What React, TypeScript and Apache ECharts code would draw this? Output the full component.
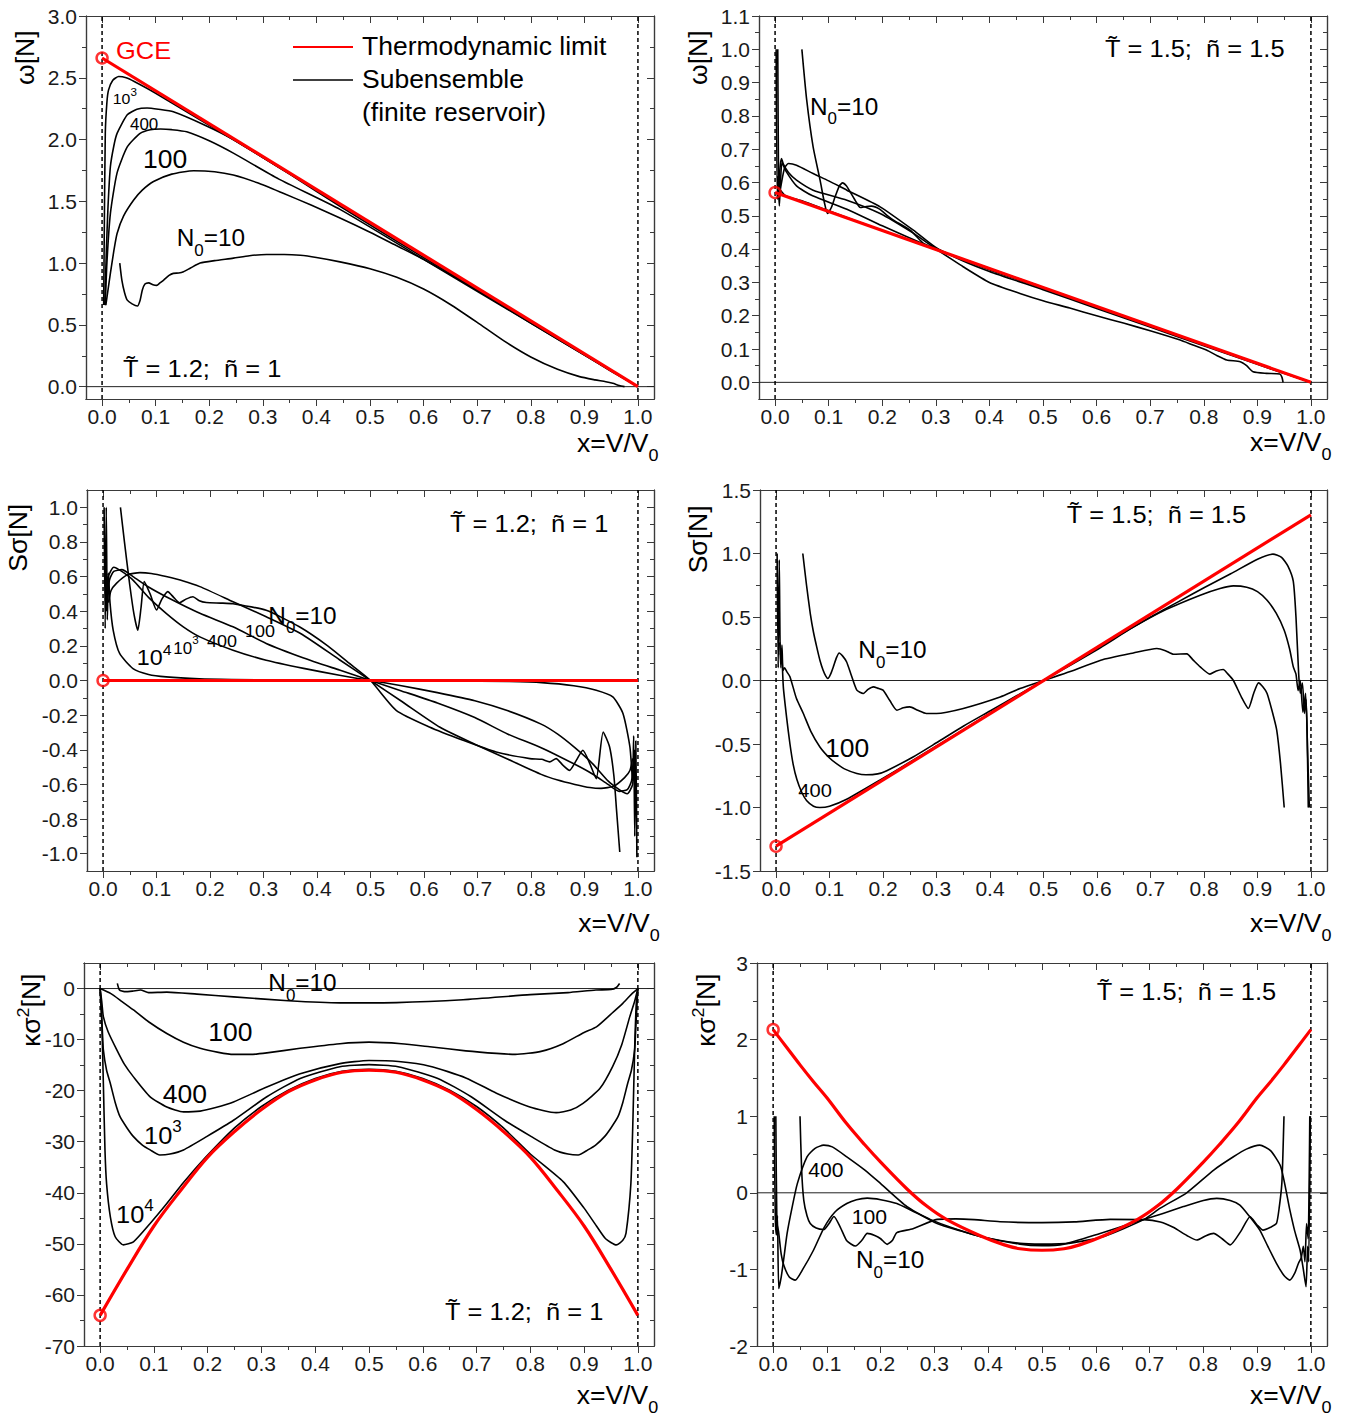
import React, { useEffect, useRef } from 'react';
import * as echarts from 'echarts';

const FONT = '"Liberation Sans", Arial, Helvetica, sans-serif';
const AXC = '#3a3a3a';
const LBC = '#1a1a1a';
const RED = '#ff0000';

// ---------- shared x ticks ----------
const X_MAJOR = [0, 0.1, 0.2, 0.3, 0.4, 0.5, 0.6, 0.7, 0.8, 0.9, 1.0];
const X_MINOR = [0.05, 0.15, 0.25, 0.35, 0.45, 0.55, 0.65, 0.75, 0.85, 0.95];

// ---------- Panel 1: omega[N], T=1.2, n=1 ----------
const P1_Y_MAJOR = [0, 0.5, 1.0, 1.5, 2.0, 2.5, 3.0];
const P1_Y_MINOR = [0.25, 0.75, 1.25, 1.75, 2.25, 2.75];
const p1Red = [[0, 2.66], [1, 0]];
const p1N10000 = [[0.003, 0.66], [0.004, 1.2], [0.006, 2.05], [0.009, 2.3], [0.012, 2.4], [0.02, 2.48], [0.031, 2.51], [0.045, 2.5], [0.06, 2.47], [0.1, 2.375], [0.2, 2.115], [0.3, 1.855], [0.45, 1.46], [0.6, 1.062], [0.8, 0.531], [0.9, 0.265], [1.0, 0]];
const p1N1000 = [[0.005, 0.66], [0.008, 1.1], [0.011, 1.45], [0.0155, 1.78], [0.022, 1.95], [0.028, 2.05], [0.047, 2.2], [0.065, 2.245], [0.084, 2.255], [0.105, 2.245], [0.133, 2.225], [0.19, 2.12], [0.245, 2.0], [0.35, 1.72], [0.444, 1.46], [0.6, 1.045], [0.8, 0.525], [0.9, 0.262], [1, 0]];
const p1N400 = [[0.006, 0.66], [0.009, 1.0], [0.0155, 1.40], [0.028, 1.73], [0.047, 1.94], [0.071, 2.05], [0.09, 2.08], [0.109, 2.085], [0.13, 2.08], [0.158, 2.063], [0.2, 1.99], [0.245, 1.89], [0.33, 1.68], [0.444, 1.435], [0.6, 1.03], [0.8, 0.515], [0.9, 0.257], [1, 0]];
const p1N100 = [[0.007, 0.66], [0.01, 0.75], [0.0155, 0.917], [0.022, 1.1], [0.028, 1.24], [0.04, 1.38], [0.059, 1.51], [0.075, 1.59], [0.096, 1.66], [0.13, 1.72], [0.171, 1.748], [0.21, 1.74], [0.245, 1.713], [0.29, 1.65], [0.338, 1.565], [0.39, 1.47], [0.444, 1.365], [0.5, 1.25], [0.55, 1.14], [0.6, 1.03], [0.7, 0.78], [0.8, 0.515], [0.9, 0.255], [0.95, 0.125], [1, 0]];
const p1N10 = [[0.033, 1.0], [0.037, 0.86], [0.042, 0.76], [0.047, 0.7], [0.056, 0.67], [0.066, 0.653], [0.071, 0.7], [0.075, 0.78], [0.08, 0.83], [0.087, 0.84], [0.095, 0.825], [0.102, 0.82], [0.108, 0.84], [0.115, 0.863], [0.125, 0.9], [0.133, 0.917], [0.143, 0.92], [0.152, 0.93], [0.165, 0.96], [0.183, 1.0], [0.21, 1.02], [0.245, 1.04], [0.275, 1.06], [0.307, 1.07], [0.34, 1.07], [0.37, 1.063], [0.4, 1.045], [0.444, 1.01], [0.5, 0.955], [0.55, 0.885], [0.6, 0.79], [0.65, 0.665], [0.7, 0.52], [0.75, 0.37], [0.8, 0.24], [0.85, 0.14], [0.891, 0.081], [0.92, 0.055], [0.94, 0.04], [0.953, 0.027], [0.965, 0.01], [0.975, 0]];

// ---------- Panel 2: omega[N], T=1.5, n=1.5 ----------
const P2_Y_MAJOR = [0, 0.1, 0.2, 0.3, 0.4, 0.5, 0.6, 0.7, 0.8, 0.9, 1.0, 1.1];
const P2_Y_MINOR = [0.05, 0.15, 0.25, 0.35, 0.45, 0.55, 0.65, 0.75, 0.85, 0.95, 1.05];
const p2Red = [[0, 0.57], [1, 0]];
const p2N10000 = [[0.002, 1.0], [0.004, 0.55], [0.006, 0.62], [0.009, 0.58], [0.02, 0.56], [0.05, 0.545], [0.1, 0.515], [0.2, 0.456], [0.3, 0.399], [0.5, 0.285], [0.7, 0.171], [0.9, 0.057], [1, 0]];
const p2N1000 = [[0.005, 1.0], [0.0065, 0.6], [0.008, 0.53], [0.01, 0.6], [0.013, 0.66], [0.02, 0.635], [0.04, 0.59], [0.07, 0.56], [0.134, 0.52], [0.2, 0.47], [0.3, 0.4], [0.5, 0.285], [0.7, 0.171], [0.9, 0.057], [1, 0]];
const p2N400 = [[0.006, 0.55], [0.009, 0.64], [0.012, 0.672], [0.0155, 0.655], [0.025, 0.63], [0.04, 0.607], [0.071, 0.577], [0.134, 0.547], [0.196, 0.507], [0.258, 0.448], [0.3, 0.402], [0.4, 0.338], [0.5, 0.282], [0.7, 0.169], [0.9, 0.056], [1, 0]];
const p2N100 = [[0.008, 0.56], [0.012, 0.6], [0.018, 0.645], [0.025, 0.657], [0.04, 0.652], [0.071, 0.627], [0.1, 0.605], [0.134, 0.577], [0.196, 0.527], [0.258, 0.457], [0.3, 0.405], [0.35, 0.365], [0.4, 0.333], [0.5, 0.278], [0.6, 0.222], [0.7, 0.166], [0.8, 0.11], [0.9, 0.054], [1, 0]];
const p2N10 = [[0.05, 1.0], [0.059, 0.848], [0.071, 0.707], [0.084, 0.607], [0.092, 0.54], [0.098, 0.507], [0.105, 0.525], [0.112, 0.557], [0.12, 0.59], [0.126, 0.599], [0.133, 0.59], [0.14, 0.572], [0.15, 0.545], [0.159, 0.525], [0.17, 0.528], [0.18, 0.529], [0.195, 0.52], [0.21, 0.5], [0.221, 0.487], [0.252, 0.457], [0.277, 0.417], [0.3, 0.4], [0.351, 0.347], [0.4, 0.3], [0.457, 0.267], [0.5, 0.245], [0.55, 0.223], [0.6, 0.2], [0.65, 0.178], [0.7, 0.155], [0.756, 0.127], [0.78, 0.112], [0.805, 0.097], [0.825, 0.08], [0.843, 0.067], [0.868, 0.062], [0.88, 0.05], [0.892, 0.032], [0.917, 0.027], [0.942, 0.025], [0.946, 0.015], [0.948, 0]];

// ---------- Panel 3: S sigma[N], T=1.2, n=1 ----------
const P3_Y_MAJOR = [-1.0, -0.8, -0.6, -0.4, -0.2, 0, 0.2, 0.4, 0.6, 0.8, 1.0];
const P3_Y_MINOR = [-0.9, -0.7, -0.5, -0.3, -0.1, 0.1, 0.3, 0.5, 0.7, 0.9];
const p3Red = [[0, 0], [1, 0]];
const p3N10000 = [[0.002, 1.0], [0.004, 0.3], [0.006, 1.0], [0.008, 0.35], [0.01, 0.62], [0.013, 0.45], [0.019, 0.29], [0.031, 0.156], [0.056, 0.069], [0.085, 0.035], [0.118, 0.021], [0.18, 0.01], [0.24, 0.006], [0.35, 0.002], [0.5, 0], [0.65, -0.002], [0.76, -0.006], [0.82, -0.012], [0.88, -0.03], [0.922, -0.056], [0.953, -0.095], [0.972, -0.19], [0.985, -0.384], [0.99, -0.58], [0.992, -0.32], [0.994, -0.9], [0.996, -0.35], [0.998, -1.02]];
const p3N1000 = [[0.006, 0.4], [0.01, 0.6], [0.02, 0.654], [0.035, 0.63], [0.056, 0.58], [0.085, 0.48], [0.118, 0.388], [0.15, 0.31], [0.181, 0.252], [0.243, 0.175], [0.305, 0.117], [0.375, 0.07], [0.442, 0.03], [0.5, 0], [0.558, -0.03], [0.625, -0.07], [0.695, -0.117], [0.757, -0.175], [0.819, -0.252], [0.85, -0.31], [0.882, -0.388], [0.915, -0.48], [0.944, -0.58], [0.965, -0.63], [0.98, -0.654], [0.99, -0.6], [0.994, -0.4]];
const p3N400 = [[0.008, 0.45], [0.012, 0.58], [0.02, 0.63], [0.035, 0.64], [0.056, 0.6], [0.085, 0.54], [0.118, 0.484], [0.181, 0.388], [0.243, 0.31], [0.305, 0.214], [0.375, 0.13], [0.442, 0.06], [0.5, 0], [0.558, -0.06], [0.625, -0.13], [0.695, -0.214], [0.757, -0.31], [0.819, -0.388], [0.882, -0.484], [0.915, -0.54], [0.944, -0.6], [0.965, -0.64], [0.98, -0.63], [0.988, -0.58], [0.992, -0.45]];
const p3N100 = [[0.01, 0.45], [0.015, 0.52], [0.025, 0.561], [0.045, 0.61], [0.069, 0.623], [0.09, 0.618], [0.118, 0.6], [0.15, 0.575], [0.181, 0.542], [0.243, 0.455], [0.305, 0.368], [0.37, 0.27], [0.442, 0.12], [0.5, 0], [0.558, -0.12], [0.63, -0.27], [0.695, -0.368], [0.757, -0.455], [0.819, -0.542], [0.85, -0.575], [0.882, -0.6], [0.91, -0.618], [0.931, -0.623], [0.955, -0.61], [0.975, -0.561], [0.985, -0.52], [0.99, -0.45]];
const p3N10 = [[0.0325, 1.0], [0.04, 0.8], [0.05, 0.55], [0.058, 0.38], [0.065, 0.29], [0.071, 0.42], [0.077, 0.571], [0.088, 0.5], [0.1, 0.407], [0.11, 0.47], [0.121, 0.513], [0.132, 0.48], [0.143, 0.449], [0.155, 0.47], [0.168, 0.484], [0.18, 0.46], [0.193, 0.45], [0.22, 0.447], [0.243, 0.443], [0.305, 0.405], [0.367, 0.31], [0.42, 0.2], [0.46, 0.1], [0.5, 0], [0.548, -0.172], [0.61, -0.268], [0.673, -0.345], [0.735, -0.413], [0.798, -0.451], [0.82, -0.455], [0.835, -0.47], [0.847, -0.451], [0.86, -0.49], [0.872, -0.519], [0.885, -0.46], [0.897, -0.403], [0.91, -0.48], [0.922, -0.567], [0.935, -0.297], [0.947, -0.384], [0.955, -0.55], [0.96, -0.75], [0.966, -0.99]];

// ---------- Panel 4: S sigma[N], T=1.5, n=1.5 ----------
const P4_Y_MAJOR = [-1.5, -1.0, -0.5, 0, 0.5, 1.0, 1.5];
const P4_Y_MINOR = [-1.25, -0.75, -0.25, 0.25, 0.75, 1.25];
const p4Red = [[0, -1.305], [1, 1.305]];
const p4N400 = [[0.002, 1.0], [0.004, 0.1], [0.006, 0.95], [0.008, 0.2], [0.01, 0.25], [0.0136, -0.05], [0.02, -0.3], [0.026, -0.5], [0.032, -0.66], [0.039, -0.78], [0.048, -0.88], [0.057, -0.945], [0.07, -0.99], [0.082, -1.0], [0.1, -0.99], [0.132, -0.935], [0.194, -0.785], [0.257, -0.625], [0.3, -0.515], [0.35, -0.388], [0.4, -0.258], [0.456, -0.112], [0.5, 0], [0.6, 0.255], [0.7, 0.5], [0.75, 0.615], [0.8, 0.73], [0.85, 0.84], [0.9, 0.955], [0.929, 0.995], [0.945, 0.97], [0.957, 0.9], [0.967, 0.78], [0.972, 0.5], [0.977, 0.055], [0.98, -0.1], [0.984, -0.02], [0.988, -0.26], [0.991, -0.15], [0.993, -0.45], [0.995, -1.0]];
const p4N100 = [[0.007, 0.3], [0.009, 0.1], [0.011, 0.28], [0.013, 0.08], [0.016, 0.1], [0.02, 0.07], [0.026, 0.03], [0.038, -0.14], [0.051, -0.26], [0.065, -0.4], [0.082, -0.523], [0.1, -0.61], [0.113, -0.654], [0.13, -0.7], [0.151, -0.732], [0.168, -0.742], [0.19, -0.735], [0.207, -0.71], [0.257, -0.6], [0.3, -0.49], [0.35, -0.36], [0.4, -0.24], [0.456, -0.105], [0.5, 0], [0.55, 0.12], [0.607, 0.26], [0.668, 0.42], [0.73, 0.56], [0.793, 0.672], [0.83, 0.725], [0.855, 0.745], [0.88, 0.735], [0.9, 0.7], [0.918, 0.632], [0.935, 0.53], [0.95, 0.396], [0.96, 0.25], [0.967, 0.107], [0.972, 0.05], [0.976, -0.08], [0.98, 0.0], [0.985, -0.25], [0.99, -0.1], [0.994, -0.6], [0.997, -1.0]];
const p4N10 = [[0.05, 1.0], [0.057, 0.75], [0.064, 0.527], [0.07, 0.38], [0.076, 0.265], [0.082, 0.16], [0.088, 0.081], [0.093, 0.035], [0.097, 0.016], [0.102, 0.05], [0.107, 0.107], [0.113, 0.18], [0.118, 0.217], [0.125, 0.19], [0.132, 0.146], [0.14, 0.05], [0.151, -0.076], [0.163, -0.102], [0.172, -0.07], [0.182, -0.05], [0.19, -0.06], [0.2, -0.076], [0.213, -0.16], [0.226, -0.234], [0.238, -0.215], [0.25, -0.208], [0.265, -0.235], [0.281, -0.26], [0.3, -0.26], [0.35, -0.22], [0.419, -0.13], [0.456, -0.063], [0.5, 0], [0.55, 0.07], [0.607, 0.16], [0.668, 0.217], [0.712, 0.252], [0.728, 0.235], [0.743, 0.207], [0.768, 0.21], [0.78, 0.16], [0.793, 0.107], [0.811, 0.05], [0.823, 0.075], [0.836, 0.087], [0.845, 0.05], [0.855, 0], [0.87, -0.13], [0.883, -0.22], [0.893, -0.1], [0.902, -0.019], [0.91, -0.05], [0.918, -0.102], [0.928, -0.25], [0.936, -0.39], [0.943, -0.65], [0.95, -1.0]];

// ---------- Panel 5: kappa sigma^2[N], T=1.2, n=1 ----------
const P5_Y_MAJOR = [-70, -60, -50, -40, -30, -20, -10, 0];
const P5_Y_MINOR = [-65, -55, -45, -35, -25, -15, -5];
const p5Red = [[0, -64], [0.05, -55], [0.1, -46.5], [0.15, -39.5], [0.2, -33], [0.25, -28], [0.3, -23.7], [0.35, -20.2], [0.4, -17.9], [0.45, -16.4], [0.5, -16], [0.55, -16.4], [0.6, -17.9], [0.65, -20.2], [0.7, -23.7], [0.75, -28], [0.8, -33], [0.85, -39.5], [0.9, -46.5], [0.95, -55], [1, -64]];
const p5N10000 = [[0, 0], [0.003, -6], [0.006, -18.6], [0.009, -31.6], [0.012, -38.2], [0.019, -44.7], [0.028, -48.6], [0.043, -50.2], [0.062, -49.6], [0.093, -46], [0.124, -42.1], [0.155, -38], [0.186, -34.2], [0.25, -27.3], [0.3, -23.1], [0.35, -19.9], [0.4, -17.6], [0.45, -16.2], [0.5, -15.8], [0.55, -16.2], [0.6, -17.6], [0.65, -19.9], [0.7, -23.1], [0.75, -27.3], [0.8, -32.4], [0.861, -37.8], [0.9, -43], [0.923, -46.5], [0.94, -49], [0.96, -50.2], [0.972, -49.3], [0.978, -47.9], [0.987, -38.2], [0.991, -25], [0.994, -12], [0.997, -3], [1, 0]];
const p5N1000 = [[0, 0], [0.002, -4], [0.004, -8], [0.006, -12], [0.012, -16], [0.019, -18.6], [0.028, -22.3], [0.037, -25.1], [0.05, -27.3], [0.062, -29], [0.078, -30.6], [0.093, -31.6], [0.111, -32.6], [0.13, -32.4], [0.155, -31.6], [0.198, -29], [0.248, -25.8], [0.31, -21.2], [0.372, -17.6], [0.446, -15.3], [0.5, -14.9], [0.554, -15.3], [0.628, -17.6], [0.69, -21.2], [0.752, -25.8], [0.802, -29], [0.845, -31.6], [0.87, -32.4], [0.889, -32.6], [0.907, -31.6], [0.922, -30.6], [0.938, -29], [0.95, -27.3], [0.963, -25.1], [0.972, -22.3], [0.981, -18.6], [0.988, -16], [0.994, -12], [0.996, -8], [0.998, -4], [1, 0]];
const p5N400 = [[0, 0], [0.003, -2.5], [0.006, -5.5], [0.015, -8.5], [0.031, -12], [0.045, -14.8], [0.062, -17.3], [0.093, -21.2], [0.124, -23.2], [0.155, -24.15], [0.186, -24], [0.215, -23.3], [0.248, -22.2], [0.31, -19.3], [0.372, -16.7], [0.446, -14.7], [0.5, -14.1], [0.555, -14.3], [0.613, -15.2], [0.68, -17.5], [0.737, -20.5], [0.799, -23.2], [0.848, -24.3], [0.875, -23.8], [0.898, -22.5], [0.93, -19.5], [0.953, -15.3], [0.97, -11], [0.985, -5.5], [0.994, -2.5], [1, 0]];
const p5N100 = [[0, 0], [0.02, -1], [0.04, -2.5], [0.062, -4.2], [0.09, -6.5], [0.124, -8.8], [0.155, -10.5], [0.186, -11.7], [0.22, -12.5], [0.248, -12.9], [0.28, -12.9], [0.31, -12.6], [0.372, -11.7], [0.446, -10.8], [0.5, -10.5], [0.56, -10.8], [0.613, -11.4], [0.68, -12.2], [0.737, -12.7], [0.772, -12.9], [0.82, -12.3], [0.861, -10.8], [0.9, -8.6], [0.923, -7.5], [0.95, -5], [0.972, -2.9], [0.99, -0.9], [1, 0]];
const p5N10 = [[0.032, 1], [0.036, -0.3], [0.045, -0.6], [0.06, -0.5], [0.075, -0.3], [0.09, -0.8], [0.124, -0.7], [0.18, -1.1], [0.248, -1.64], [0.35, -2.4], [0.446, -2.8], [0.551, -2.75], [0.675, -2.2], [0.8, -1.2], [0.87, -0.8], [0.922, -0.3], [0.95, -0.2], [0.96, 0.2], [0.966, 1.0]];

// ---------- Panel 6: kappa sigma^2[N], T=1.5, n=1.5 ----------
const P6_Y_MAJOR = [-2, -1, 0, 1, 2, 3];
const P6_Y_MINOR = [-1.5, -0.5, 0.5, 1.5, 2.5];
const p6Red = [[0, 2.13], [0.025, 1.9], [0.05, 1.67], [0.075, 1.45], [0.1, 1.24], [0.137, 0.9], [0.17, 0.63], [0.2, 0.4], [0.249, 0.05], [0.285, -0.17], [0.323, -0.35], [0.385, -0.56], [0.43, -0.68], [0.459, -0.73], [0.5, -0.75], [0.541, -0.73], [0.57, -0.68], [0.615, -0.56], [0.677, -0.35], [0.715, -0.17], [0.751, 0.05], [0.8, 0.4], [0.83, 0.63], [0.863, 0.9], [0.9, 1.24], [0.925, 1.45], [0.95, 1.67], [0.975, 1.9], [1, 2.13]];
const p6N400 = [[0.002, 1.0], [0.004, -0.3], [0.006, -0.55], [0.008, -0.3], [0.0104, -1.25], [0.015, -1.1], [0.02, -0.85], [0.026, -0.53], [0.035, -0.2], [0.045, 0.12], [0.063, 0.47], [0.078, 0.58], [0.094, 0.622], [0.11, 0.6], [0.137, 0.47], [0.17, 0.3], [0.2, 0.12], [0.249, -0.18], [0.305, -0.4], [0.35, -0.5], [0.385, -0.57], [0.459, -0.66], [0.5, -0.67], [0.55, -0.66], [0.615, -0.57], [0.689, -0.35], [0.72, -0.2], [0.769, 0], [0.82, 0.3], [0.856, 0.47], [0.88, 0.57], [0.905, 0.622], [0.925, 0.55], [0.944, 0.34], [0.961, -0.226], [0.97, -0.5], [0.98, -0.75], [0.986, -1.0], [0.991, -1.226], [0.994, -0.7], [0.996, -0.9], [0.999, 1.0]];
const p6N100 = [[0.005, 1.0], [0.007, -0.4], [0.01, -0.5], [0.015, -0.8], [0.02, -0.95], [0.03, -1.1], [0.041, -1.14], [0.055, -1.0], [0.075, -0.75], [0.095, -0.45], [0.115, -0.25], [0.137, -0.14], [0.155, -0.09], [0.175, -0.07], [0.2, -0.09], [0.23, -0.14], [0.26, -0.24], [0.292, -0.347], [0.33, -0.45], [0.385, -0.57], [0.459, -0.67], [0.5, -0.69], [0.541, -0.67], [0.608, -0.53], [0.689, -0.35], [0.725, -0.27], [0.763, -0.18], [0.8, -0.1], [0.825, -0.073], [0.85, -0.1], [0.868, -0.16], [0.885, -0.3], [0.905, -0.487], [0.92, -0.7], [0.936, -0.92], [0.95, -1.08], [0.961, -1.14], [0.97, -1.05], [0.977, -0.92], [0.982, -0.85], [0.986, -0.7], [0.989, -0.9], [0.992, -0.4], [0.995, -0.6], [0.998, 1.0]];
const p6N10 = [[0.05, 1.0], [0.053, 0.3], [0.057, -0.1], [0.063, -0.3], [0.069, -0.4], [0.08, -0.46], [0.094, -0.48], [0.104, -0.4], [0.113, -0.31], [0.125, -0.45], [0.137, -0.626], [0.153, -0.695], [0.165, -0.62], [0.175, -0.53], [0.19, -0.56], [0.2, -0.6], [0.212, -0.673], [0.222, -0.62], [0.23, -0.52], [0.26, -0.47], [0.305, -0.347], [0.34, -0.34], [0.374, -0.35], [0.422, -0.378], [0.5, -0.39], [0.56, -0.38], [0.627, -0.347], [0.689, -0.35], [0.72, -0.38], [0.744, -0.45], [0.77, -0.56], [0.788, -0.617], [0.805, -0.56], [0.819, -0.53], [0.835, -0.6], [0.85, -0.68], [0.87, -0.5], [0.887, -0.313], [0.9, -0.42], [0.911, -0.487], [0.925, -0.45], [0.936, -0.4], [0.941, -0.2], [0.946, 0.12], [0.948, 0.5], [0.95, 1.0]];

// ---------- layout ----------
type PanelDef = {
  grid: { left: number; top: number; width: number; height: number };
  ymin: number; ymax: number; yMajor: number[]; yMinor: number[]; dec: number;
  black: number[][][]; red: number[][]; redMark: number[]; zeroLine: boolean;
};

const PANELS: PanelDef[] = [
  { grid: { left: 86, top: 16, width: 568, height: 383 }, ymin: -0.1, ymax: 3.0, yMajor: P1_Y_MAJOR, yMinor: P1_Y_MINOR, dec: 1, black: [p1N10000, p1N1000, p1N400, p1N100, p1N10], red: p1Red, redMark: [0, 2.66], zeroLine: true },
  { grid: { left: 759, top: 16, width: 568, height: 383 }, ymin: -0.05, ymax: 1.1, yMajor: P2_Y_MAJOR, yMinor: P2_Y_MINOR, dec: 1, black: [p2N10000, p2N1000, p2N400, p2N100, p2N10], red: p2Red, redMark: [0, 0.57], zeroLine: true },
  { grid: { left: 87, top: 490, width: 567, height: 381 }, ymin: -1.1, ymax: 1.1, yMajor: P3_Y_MAJOR, yMinor: P3_Y_MINOR, dec: 1, black: [p3N10000, p3N1000, p3N400, p3N100, p3N10], red: p3Red, redMark: [0, 0], zeroLine: false },
  { grid: { left: 760, top: 490, width: 567, height: 381 }, ymin: -1.5, ymax: 1.5, yMajor: P4_Y_MAJOR, yMinor: P4_Y_MINOR, dec: 1, black: [p4N400, p4N100, p4N10], red: p4Red, redMark: [0, -1.305], zeroLine: true },
  { grid: { left: 84, top: 963, width: 570, height: 383 }, ymin: -70, ymax: 5, yMajor: P5_Y_MAJOR, yMinor: P5_Y_MINOR, dec: 0, black: [p5N10000, p5N1000, p5N400, p5N100, p5N10], red: p5Red, redMark: [0, -64], zeroLine: true },
  { grid: { left: 757, top: 963, width: 570, height: 383 }, ymin: -2, ymax: 3, yMajor: P6_Y_MAJOR, yMinor: P6_Y_MINOR, dec: 0, black: [p6N400, p6N100, p6N10], red: p6Red, redMark: [0, 2.13], zeroLine: true },
];

const fmt = (v: number, dec: number) => (Math.abs(v) < 1e-9 ? 0 : v).toFixed(dec);

function buildAxes(gi: number, p: PanelDef) {
  const line = { show: true, onZero: false, lineStyle: { color: AXC, width: 1.2 } };
  const tl = { color: AXC, width: 1 };
  const lbl = (vals: number[], dec: number, margin: number) => ({ show: true, customValues: vals, formatter: (v: number) => fmt(v, dec), fontSize: 21, fontFamily: FONT, color: LBC, margin });
  const xb = { gridIndex: gi, type: 'value', min: -0.03, max: 1.03, splitLine: { show: false }, axisLine: line };
  const yb = { gridIndex: gi, type: 'value', min: p.ymin, max: p.ymax, splitLine: { show: false }, axisLine: line };
  const xs = [
    { ...xb, position: 'bottom', axisTick: { show: true, inside: false, length: 7, customValues: X_MAJOR, lineStyle: tl }, axisLabel: lbl(X_MAJOR, 1, 7) },
    { ...xb, position: 'bottom', axisTick: { show: true, inside: false, length: 4, customValues: X_MINOR, lineStyle: tl }, axisLabel: { show: false } },
    { ...xb, position: 'top', axisTick: { show: true, inside: true, length: 7, customValues: X_MAJOR, lineStyle: tl }, axisLabel: { show: false } },
    { ...xb, position: 'top', axisTick: { show: true, inside: true, length: 4, customValues: X_MINOR, lineStyle: tl }, axisLabel: { show: false } },
  ];
  const ys = [
    { ...yb, position: 'left', axisTick: { show: true, inside: false, length: 7, customValues: p.yMajor, lineStyle: tl }, axisLabel: lbl(p.yMajor, p.dec, 9) },
    { ...yb, position: 'left', axisTick: { show: true, inside: false, length: 4, customValues: p.yMinor, lineStyle: tl }, axisLabel: { show: false } },
    { ...yb, position: 'right', axisTick: { show: true, inside: true, length: 7, customValues: p.yMajor, lineStyle: tl }, axisLabel: { show: false } },
    { ...yb, position: 'right', axisTick: { show: true, inside: true, length: 4, customValues: p.yMinor, lineStyle: tl }, axisLabel: { show: false } },
  ];
  return { xs, ys };
}

function buildSeries(gi: number, p: PanelDef) {
  const ax = { xAxisIndex: gi * 4, yAxisIndex: gi * 4, silent: true, animation: false };
  const out: any[] = [];
  if (p.zeroLine) out.push({ ...ax, type: 'line', data: [[-0.03, 0], [1.03, 0]], symbol: 'none', lineStyle: { color: '#222', width: 1 }, z: 1 });
  [0, 1].forEach((xv) => out.push({ ...ax, type: 'line', data: [[xv, p.ymin], [xv, p.ymax]], symbol: 'none', lineStyle: { color: '#000', width: 1.5, type: [4, 3] }, z: 1 }));
  p.black.forEach((d) => out.push({ ...ax, type: 'line', data: d, symbol: 'none', smooth: 0.2, lineStyle: { color: '#000', width: 1.6, join: 'round' }, z: 3 }));
  out.push({ ...ax, type: 'line', data: p.red, symbol: 'none', smooth: 0.35, lineStyle: { color: RED, width: 3.2, join: 'round' }, z: 4 });
  out.push({ ...ax, type: 'scatter', data: [p.redMark], symbol: 'circle', symbolSize: 11, itemStyle: { color: 'rgba(0,0,0,0)', borderColor: RED, borderWidth: 2.5 }, z: 5 });
  return out;
}

// ---------- text helpers ----------
let _ctx: CanvasRenderingContext2D | null = null;
function tw(t: string, size: number) {
  if (!_ctx) _ctx = document.createElement('canvas').getContext('2d');
  _ctx!.font = `${size}px "Liberation Sans"`;
  return _ctx!.measureText(t).width;
}
type Part = [string, number, number?];
function rich(parts: Part[], x0: number, y0: number, opts: { rot?: boolean; color?: string; sx?: number } = {}) {
  const rot = !!opts.rot; const color = opts.color || '#000'; const sx = opts.sx ?? 1.06;
  let u = 0; const els: any[] = [];
  for (const [t, size, rise = 0] of parts) {
    const vc = -0.3465 * size - rise;
    const x = rot ? x0 + vc : x0 + u;
    const y = rot ? y0 - u : y0 + vc;
    els.push({ type: 'text', x, y, rotation: rot ? Math.PI / 2 : 0, scaleX: sx, z: 100, silent: true,
      style: { text: t, fontSize: size, fontFamily: FONT, fill: color, align: 'left', verticalAlign: 'middle', textAlign: 'left', textVerticalAlign: 'middle' } });
    u += tw(t, size) * sx;
  }
  return els;
}
const N0: (s: number) => Part[] = (s) => [['N', s], ['0', Math.round(s * 0.68), -9], ['=10', s]];
const XT: Part[] = [['x=V/V', 25], ['0', 17, -9]];
const T12 = 'T\u0303 = 1.2;\u00a0 \u00f1 = 1';
const T15 = 'T\u0303 = 1.5;\u00a0 \u00f1 = 1.5';

function buildGraphics() {
  const g: any[] = [];
  // Panel 1
  g.push(...rich([['GCE', 24]], 116, 59, { color: RED }));
  g.push({ type: 'line', shape: { x1: 293, y1: 47, x2: 353, y2: 47 }, style: { stroke: RED, lineWidth: 2.2 }, z: 100 });
  g.push({ type: 'line', shape: { x1: 293, y1: 80, x2: 353, y2: 80 }, style: { stroke: '#000', lineWidth: 1.4 }, z: 100 });
  g.push(...rich([['Thermodynamic limit', 25]], 362, 55));
  g.push(...rich([['Subensemble', 25]], 362, 88));
  g.push(...rich([['(finite reservoir)', 25]], 362, 121));
  g.push(...rich([['10', 15], ['3', 11, 8]], 112.7, 104));
  g.push(...rich([['400', 16]], 130, 130));
  g.push(...rich([['100', 25]], 143, 168));
  g.push(...rich(N0(23), 176.7, 246.7));
  g.push(...rich([[T12, 24]], 123, 376.7));
  g.push(...rich([['\u03c9[N]', 25]], 34, 85, { rot: true }));
  g.push(...rich(XT, 577, 452));
  // Panel 2
  g.push(...rich(N0(23), 810, 115));
  g.push(...rich([[T15, 24]], 1105, 57.3));
  g.push(...rich([['\u03c9[N]', 25]], 707, 85, { rot: true }));
  g.push(...rich(XT, 1250, 451));
  // Panel 3
  g.push(...rich(N0(23), 268.3, 624));
  g.push(...rich([['100', 17]], 245, 637));
  g.push(...rich([['400', 17]], 207, 647));
  g.push(...rich([['10', 16], ['3', 11, 9]], 173.3, 653.3));
  g.push(...rich([['10', 22], ['4', 15, 10]], 136.7, 665));
  g.push(...rich([[T12, 24]], 450, 531.7));
  g.push(...rich([['S\u03c3[N]', 25]], 27, 571.7, { rot: true }));
  g.push(...rich(XT, 578.3, 931.7));
  // Panel 4
  g.push(...rich(N0(23), 858.3, 658.3));
  g.push(...rich([['100', 25]], 825, 756.7));
  g.push(...rich([['400', 19]], 798.3, 796.7));
  g.push(...rich([[T15, 24]], 1066.7, 523.3));
  g.push(...rich([['S\u03c3[N]', 25]], 707, 573.3, { rot: true }));
  g.push(...rich(XT, 1250, 931.7));
  // Panel 5
  g.push(...rich(N0(23), 268.3, 991.7));
  g.push(...rich([['100', 25]], 208.3, 1040.7));
  g.push(...rich([['400', 25]], 162.7, 1103.3));
  g.push(...rich([['10', 24], ['3', 16, 12]], 144, 1144));
  g.push(...rich([['10', 24], ['4', 16, 12]], 116, 1222.7));
  g.push(...rich([[T12, 24]], 445, 1320));
  g.push(...rich([['\u03ba\u03c3', 25], ['2', 17, 11], ['[N]', 25]], 40, 1046.7, { rot: true }));
  g.push(...rich(XT, 576.7, 1404));
  // Panel 6
  g.push(...rich([['400', 20]], 808.3, 1176.7));
  g.push(...rich([['100', 20]], 851.7, 1223.3));
  g.push(...rich(N0(23), 856, 1268.3));
  g.push(...rich([[T15, 24]], 1096.7, 1000));
  g.push(...rich([['\u03ba\u03c3', 25], ['2', 17, 11], ['[N]', 25]], 715, 1046.7, { rot: true }));
  g.push(...rich(XT, 1250, 1404));
  return g;
}

export default function App() {
  const ref = useRef<HTMLDivElement>(null);
  useEffect(() => {
    if (!ref.current) return;
    const chart = echarts.init(ref.current, undefined, { renderer: 'svg' });
    const grids: any[] = []; const xAxis: any[] = []; const yAxis: any[] = []; const series: any[] = [];
    PANELS.forEach((p, gi) => {
      grids.push({ ...p.grid, show: false, containLabel: false });
      const { xs, ys } = buildAxes(gi, p);
      xAxis.push(...xs); yAxis.push(...ys);
      series.push(...buildSeries(gi, p));
    });
    chart.setOption({
      animation: false,
      backgroundColor: '#ffffff',
      textStyle: { fontFamily: FONT },
      grid: grids, xAxis, yAxis, series,
      graphic: { elements: buildGraphics() },
    });
    return () => chart.dispose();
  }, []);
  return <div ref={ref} style={{ position: 'absolute', left: 0, top: 0, width: 1357, height: 1419, background: '#fff' }} />;
}
